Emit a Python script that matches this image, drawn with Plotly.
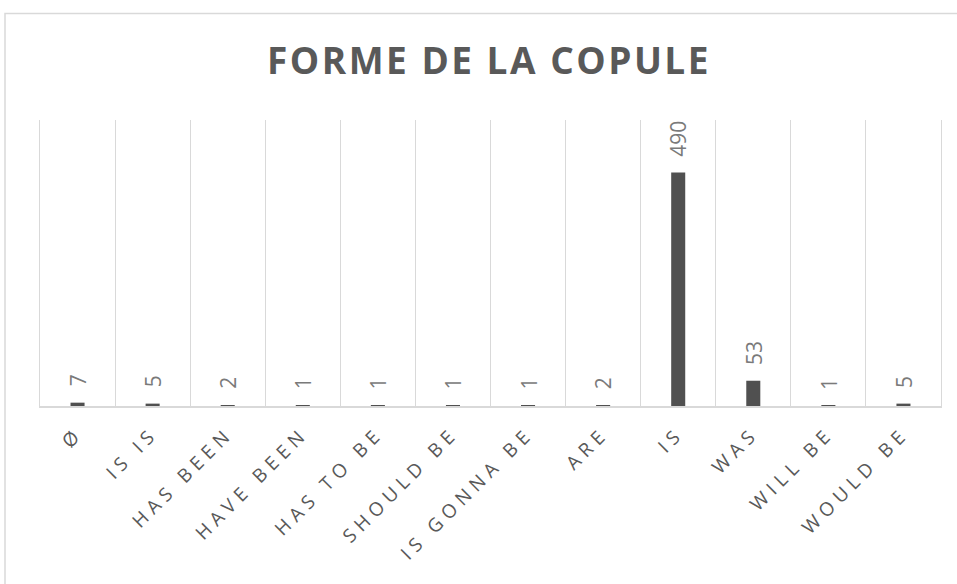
import plotly.graph_objects as go

categories = ["Ø", "IS IS", "HAS BEEN", "HAVE BEEN", "HAS TO BE", "SHOULD BE",
              "IS GONNA BE", "ARE", "IS", "WAS", "WILL BE", "WOULD BE"]
counts = [7, 5, 2, 1, 1, 1, 1, 2, 490, 53, 1, 5]
title_text = "FORME DE LA COPULE"

W, H = 957, 584
L, R, T, B = 40, 16, 120, 178
pw, ph = W - L - R, H - T - B


def px_to_paper_x(px):
    return (px - L) / pw


def px_to_paper_y(py):
    return (H - B - py) / ph


fig = go.Figure()
fig.add_trace(go.Bar(
    x=categories, y=counts,
    marker=dict(color="#505050", line=dict(width=0)),
    hoverinfo="x+y",
))

annotations = []
for c, v in zip(categories, counts):
    annotations.append(dict(
        x=c, y=v, xref="x", yref="y", text=str(v), showarrow=False,
        textangle=-90, xanchor="center", yanchor="bottom", yshift=14,
        font=dict(family="Open Sans", size=21, color="#7a7a7a"),
    ))

fig.update_layout(
    width=W, height=H,
    margin=dict(l=L, r=R, t=T, b=B),
    paper_bgcolor="white", plot_bgcolor="white",
    bargap=0.813,
    showlegend=False,
    title=dict(text="<b>" + title_text + "</b>", xref="container", x=489 / W,
               xanchor="center", yref="container", y=1 - 61.5 / H, yanchor="middle",
               font=dict(family="Open Sans", size=37, color="#595959")),
    xaxis=dict(
        type="category",
        tickson="boundaries",
        showgrid=True, gridcolor="#d9d9d9", gridwidth=1.3,
        showline=True, linecolor="#d9d9d9", linewidth=2,
        ticks="", tickangle=-45, ticklabelstandoff=7,
        tickfont=dict(family="Open Sans", size=19, color="#595959"),
        range=[-0.5, 11.5],
    ),
    yaxis=dict(
        range=[0, 600], showgrid=False, showticklabels=False,
        zeroline=False, showline=True, mirror=True,
        linecolor="#d9d9d9", linewidth=1.3, ticks="",
    ),
    annotations=annotations,
    shapes=[dict(
        type="rect", xref="paper", yref="paper",
        x0=px_to_paper_x(5), x1=px_to_paper_x(970),
        y0=px_to_paper_y(600), y1=px_to_paper_y(13.5),
        line=dict(color="#d9d9d9", width=1.5), fillcolor="rgba(0,0,0,0)",
        layer="below",
    )],
)

post = """
document.body.style.margin = '0';
document.body.style.overflow = 'hidden';
var gd = document.getElementById('{plot_id}');
function spacing() {
  gd.querySelectorAll('.xtick text').forEach(function (t) { t.style.letterSpacing = '5.5px'; });
  gd.querySelectorAll('.gtitle').forEach(function (t) { t.style.letterSpacing = '2.5px'; });
}
spacing();
gd.on('plotly_afterplot', spacing);
"""

fig.write_html("out.html", post_script=post, config={"displayModeBar": False})
